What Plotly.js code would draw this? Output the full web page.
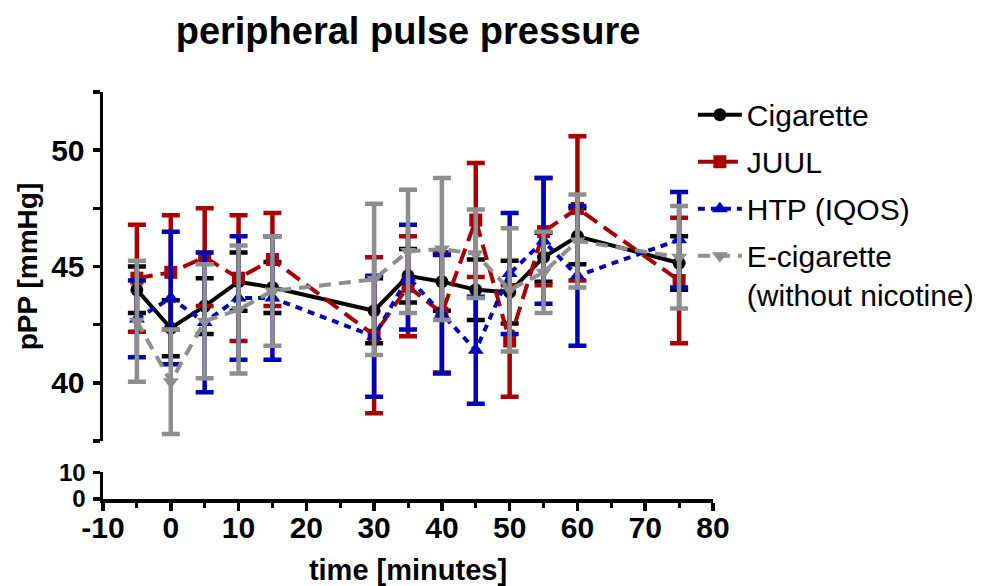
<!DOCTYPE html>
<html>
<head>
<meta charset="utf-8">
<script src="https://cdn.plot.ly/plotly-3.0.1.min.js"></script>
<style>html,body{margin:0;padding:0;background:#fff}#chart{width:1006px;height:586px}</style>
</head>
<body>
<div id="chart"></div>
<script>
// time points (minutes)
const times = [-5, 0, 5, 10, 15, 30, 35, 40, 45, 50, 55, 60, 75];

// x-axis tick values and labels
const xTickVals = [-10, 0, 10, 20, 30, 40, 50, 60, 70, 80];
const xTickText = ['-10', '0', '10', '20', '30', '40', '50', '60', '70', '80'];

// Cigarette
const cigMean = [44.0, 42.35, 43.3, 44.35, 44.1, 43.1, 44.6, 44.35, 44.0, 43.9, 45.4, 46.3, 45.15];
const cigErr  = [1.0, 1.2, 1.2, 1.25, 1.1, 1.4, 1.15, 1.25, 1.3, 1.35, 1.05, 1.2, 1.15];

// JUUL
const juulMean = [44.5, 44.75, 45.4, 44.5, 45.3, 42.05, 44.15, 43.0, 47.0, 41.8, 46.5, 47.5, 44.4];
const juulErr  = [2.3, 2.45, 2.1, 2.7, 2.0, 3.35, 2.15, 2.55, 2.45, 2.4, 2.3, 3.1, 2.7];

// HTP (IQOS)
const htpMean = [42.75, 43.65, 42.6, 43.65, 43.65, 42.0, 44.55, 42.95, 41.4, 44.7, 46.1, 44.6, 46.15];
const htpErr  = [1.65, 2.85, 3.0, 2.65, 2.65, 2.6, 2.25, 2.55, 2.3, 2.6, 2.7, 3.0, 2.05];

// E-cigarette (without nicotine)
const ecigMean = [42.65, 40.05, 42.65, 43.15, 43.95, 44.45, 45.65, 45.75, 45.55, 44.0, 44.75, 46.1, 45.4];
const ecigErr  = [2.6, 2.25, 2.45, 2.75, 2.35, 3.25, 2.65, 3.05, 1.9, 2.65, 1.75, 2.0, 2.2];

const seriesNames = ['Cigarette', 'JUUL', 'HTP (IQOS)', 'E-cigarette<br>(without nicotine)'];

const FONT = 'Liberation Sans, Arial, Helvetica, sans-serif';
const C_BLACK = '#000000', C_RED = '#A80000', C_BLUE = '#0000B8', C_GRAY = '#8E8E8E';

function series(name, x, y, err, color, dash, symbol, msize, group) {
  return {
    type: 'scatter', mode: 'lines+markers', name: name, x: x, y: y,
    xaxis: 'x', yaxis: 'y', legendgroup: group,
    line: {color: color, width: 4, dash: dash},
    marker: {color: color, symbol: symbol, size: msize, line: {width: 0}},
    error_y: {type: 'data', array: err, visible: true, color: color, thickness: 4.5, width: 9}
  };
}

const data = [
  {type: 'scatter', mode: 'markers', x: [], y: [], xaxis: 'x', yaxis: 'y2', showlegend: false, hoverinfo: 'skip'},
  series(seriesNames[0], times, cigMean, cigErr, C_BLACK, 'solid', 'circle', 13, 'g1'),
  series(seriesNames[1], times, juulMean, juulErr, C_RED, '16px,8px', 'square', 13, 'g2'),
  series(seriesNames[2], times, htpMean, htpErr, C_BLUE, '7px,6px', 'triangle-up', 14, 'g3'),
  series(seriesNames[3], times, ecigMean, ecigErr, C_GRAY, '12px,8px', 'triangle-down', 14, 'g4')
];

const tickFont = {family: FONT, size: 30, color: '#000', weight: 'bold'};

const layout = {
  width: 1006, height: 586,
  margin: {l: 103, r: 293, t: 92, b: 87, pad: 0},
  paper_bgcolor: '#fff', plot_bgcolor: '#fff',
  font: {family: FONT, color: '#000'},
  title: {
    text: 'peripheral pulse pressure',
    font: {family: FONT, size: 38, color: '#000', weight: 'bold'},
    x: 0.5, xref: 'paper', xanchor: 'center',
    y: 0.947, yref: 'container', yanchor: 'middle'
  },
  xaxis: {
    range: [-10, 80], anchor: 'y2', showgrid: false, zeroline: false,
    showline: true, linecolor: '#000', linewidth: 3.5,
    ticks: 'outside', ticklen: 8, tickwidth: 3.5, tickcolor: '#000',
    tickmode: 'array', tickvals: xTickVals, ticktext: xTickText, tickfont: tickFont,
    ticklabelstandoff: -9,
    minor: {dtick: 5, tick0: -10, ticks: 'outside', ticklen: 5, tickwidth: 3, tickcolor: '#000', showgrid: false},
    title: {text: 'time [minutes]', font: {family: FONT, size: 29, color: '#000', weight: 'bold'}, standoff: 20}
  },
  yaxis: {
    domain: [0.1423, 1], range: [37.5, 52.5], anchor: 'x',
    showgrid: false, zeroline: false,
    showline: true, linecolor: '#000', linewidth: 3.5,
    ticks: 'outside', ticklen: 7, tickwidth: 3.5, tickcolor: '#000',
    tick0: 40, dtick: 5, tickfont: tickFont, ticklabelstandoff: 2,
    minor: {dtick: 2.5, tick0: 37.5, ticks: 'outside', ticklen: 7, tickwidth: 3.5, tickcolor: '#000', showgrid: false},
    title: {text: 'pPP [mmHg]', font: {family: FONT, size: 28, color: '#000', weight: 'bold'}, standoff: 6}
  },
  yaxis2: {
    domain: [0, 0.0653], range: [0, 10], anchor: 'x',
    showgrid: false, zeroline: false,
    showline: true, linecolor: '#000', linewidth: 3.5,
    ticks: 'outside', ticklen: 7, tickwidth: 3.5, tickcolor: '#000',
    tick0: 0, dtick: 10, ticklabelstandoff: 2,
    tickfont: {family: FONT, size: 24, color: '#000', weight: 'bold'}
  },
  legend: {
    x: 0.967, y: 1.008, xanchor: 'left', yanchor: 'top',
    xref: 'paper', yref: 'paper',
    font: {family: FONT, size: 30, color: '#000'},
    bgcolor: 'rgba(0,0,0,0)', borderwidth: 0,
    traceorder: 'grouped', tracegroupgap: 5, valign: 'top', itemwidth: 44
  },
  showlegend: true
};

Plotly.newPlot('chart', data, layout, {displayModeBar: false, staticPlot: true});
</script>
</body>
</html>
